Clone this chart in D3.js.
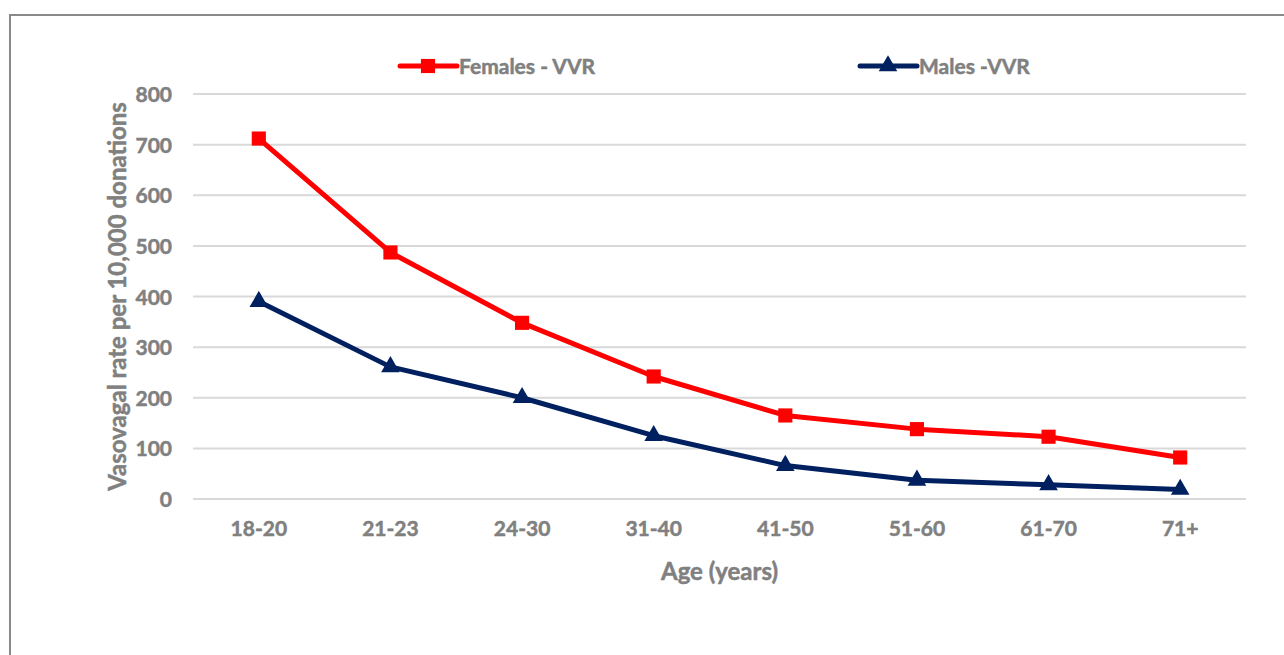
<!DOCTYPE html>
<html>
<head>
<meta charset="utf-8">
<script src="https://cdn.jsdelivr.net/npm/d3@7"></script>
<style>
  html, body { margin: 0; padding: 0; background: #fff; }
  svg text { font-family: Lato, "Open Sans", sans-serif; font-weight: bold; fill: #808080;
             stroke: #808080; stroke-width: 0.5px; }
</style>
</head>
<body>
<div id="chart-root"></div>
<script>
// data
const age_groups = ['18-20', '21-23', '24-30', '31-40', '41-50', '51-60', '61-70', '71+'];
const females_vvr = [712, 487, 348, 242, 165, 138, 123, 82];
const males_vvr = [390, 261, 200, 125, 66, 37, 28, 19];
const y_ticks = [0, 100, 200, 300, 400, 500, 600, 700, 800];

const series = [
  {name: 'Females - VVR', values: females_vvr, color: '#FF0000', marker: 'square'},
  {name: 'Males -VVR', values: males_vvr, color: '#002060', marker: 'triangle'},
];

var width = 1284, height = 655;
var margin = {top: 94, bottom: 156, left: 193, right: 38};

var svg = d3.select('#chart-root')
    .append('svg')
    .attr('width', width)
    .attr('height', height);

// outer frame (runs off the right and bottom edges)
svg.append('rect')
    .attr('x', 10).attr('y', 15)
    .attr('width', 1300).attr('height', 700)
    .attr('fill', 'none')
    .attr('stroke', '#898989')
    .attr('stroke-width', 2);

var x_scale = d3.scaleBand()
    .domain(age_groups)
    .range([margin.left, width - margin.right]);

var y_scale = d3.scaleLinear()
    .domain([0, 800])
    .range([height - margin.bottom, margin.top]);

// gridlines
svg.append('g')
    .selectAll('line')
    .data(y_ticks)
    .join('line')
    .attr('x1', margin.left)
    .attr('x2', width - margin.right)
    .attr('y1', (d) => y_scale(d))
    .attr('y2', (d) => y_scale(d))
    .attr('stroke', '#d9d9d9')
    .attr('stroke-width', 2);

var y_axis = svg.append('g')
    .attr('transform', 'translate(' + (margin.left - 21) + ',0)')
    .call(d3.axisLeft(y_scale).tickValues(y_ticks).tickSize(0).tickPadding(0));
y_axis.select('.domain').remove();
y_axis.selectAll('text')
    .style('font-size', '21px')
    .attr('font-family', null)
    .attr('dy', '0.36em');

var x_axis = svg.append('g')
    .attr('transform', 'translate(0,' + (height - margin.bottom) + ')')
    .call(d3.axisBottom(x_scale).tickSize(0).tickPadding(22));
x_axis.select('.domain').remove();
x_axis.selectAll('text')
    .style('font-size', '21px')
    .attr('font-family', null);

// axis titles
svg.append('text')
    .attr('x', (margin.left + width - margin.right) / 2)
    .attr('y', 580)
    .attr('text-anchor', 'middle')
    .style('font-size', '24px')
    .text('Age (years)');

svg.append('text')
    .attr('transform', 'translate(126,' + y_scale(400) + ') rotate(-90)')
    .attr('text-anchor', 'middle')
    .style('font-size', '24px')
    .text('Vasovagal rate per 10,000 donations');

var line = d3.line()
    .x((d, i) => x_scale(age_groups[i]) + x_scale.bandwidth() / 2)
    .y((d) => y_scale(d));

var square = d3.symbol().type(d3.symbolSquare).size(200);
var triangle = d3.symbol().type(d3.symbolTriangle).size(150);

series.forEach((s) => {
  var g = svg.append('g');
  g.append('path')
      .attr('d', line(s.values))
      .attr('fill', 'none')
      .attr('stroke', s.color)
      .attr('stroke-width', 5)
      .attr('stroke-linejoin', 'round');
  g.selectAll('path.marker')
      .data(s.values)
      .join('path')
      .classed('marker', true)
      .attr('transform', (d, i) => 'translate(' +
          (x_scale(age_groups[i]) + x_scale.bandwidth() / 2) + ',' + y_scale(d) + ')')
      .attr('d', s.marker === 'square' ? square() : triangle())
      .attr('fill', s.color);
});

// legend
var legend_x = [400, 860];
var legend = svg.append('g')
    .selectAll('g')
    .data(series)
    .join('g')
    .attr('transform', (d, i) => 'translate(' + legend_x[i] + ',66)');
legend.append('line')
    .attr('x1', 0).attr('x2', 57)
    .attr('stroke', (d) => d.color)
    .attr('stroke-width', 5)
    .attr('stroke-linecap', 'round');
legend.append('path')
    .attr('transform', 'translate(28,0)')
    .attr('d', (d) => d.marker === 'square' ? square() : triangle())
    .attr('fill', (d) => d.color);
legend.append('text')
    .attr('x', 59)
    .attr('dy', '0.36em')
    .style('font-size', '21px')
    .text((d) => d.name);
</script>
</body>
</html>
